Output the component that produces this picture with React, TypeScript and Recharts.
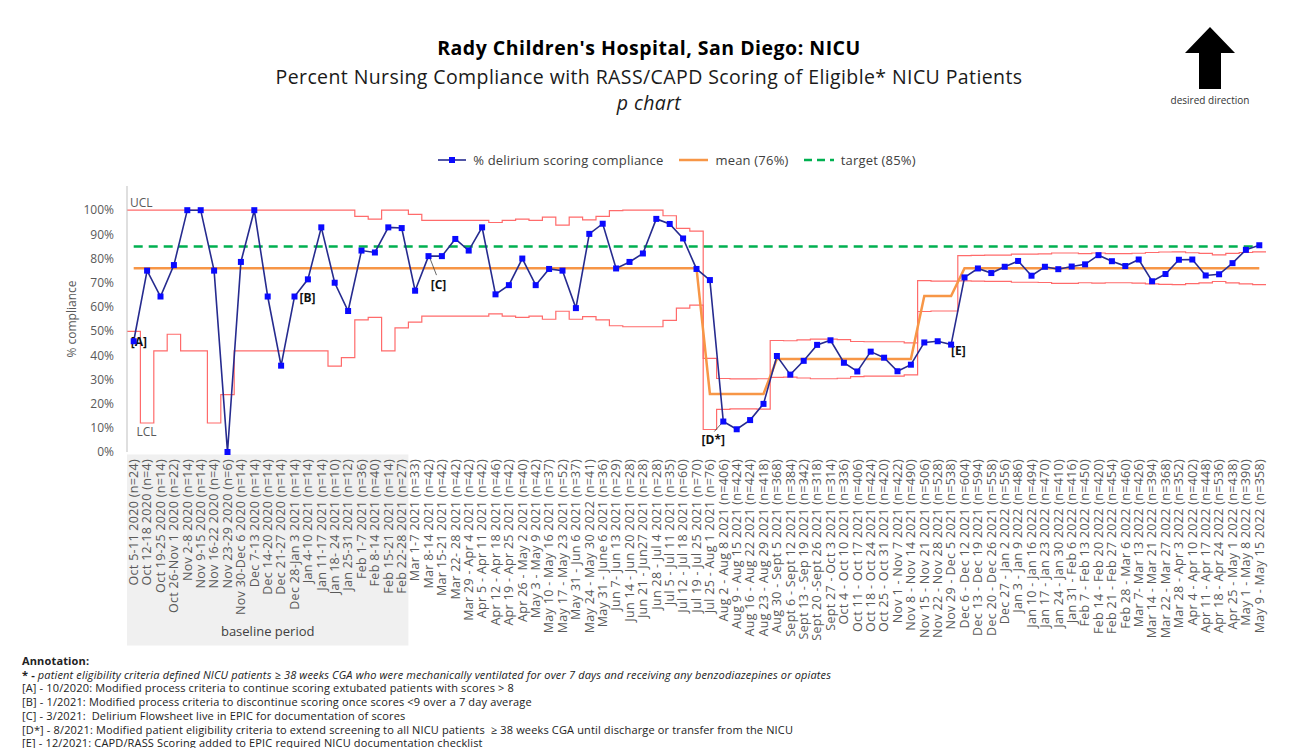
import React from 'react';
import { LineChart, Line, XAxis, YAxis, Legend, ReferenceArea, ReferenceLine, ReferenceDot } from 'recharts';

const weeks = [
  'Oct 5-11 2020 (n=24)', 'Oct 12-18 2020 (n=4)', 'Oct 19-25 2020 (n=14)', 'Oct 26-Nov 1 2020 (n=22)',
  'Nov 2-8 2020 (n=14)', 'Nov 9-15 2020 (n=14)', 'Nov 16-22 2020 (n=4)', 'Nov 23-29 2020 (n=6)',
  'Nov 30-Dec 6 2020 (n=14)', 'Dec 7-13 2020 (n=14)', 'Dec 14-20 2020 (n=14)', 'Dec 21-27 2020 (n=14)',
  'Dec 28-Jan 3 2021 (n=14)', 'Jan 4-10 2021 (n=14)', 'Jan 11-17 2021 (n=14)', 'Jan 18- 24 2021 (n=10)',
  'Jan 25-31 2021 (n=12)', 'Feb 1-7 2021 (n=36)', 'Feb 8-14 2021 (n=40)', 'Feb 15-21 2021 (n=14)',
  'Feb 22-28 2021 (n=27)',
  'Mar 1-7 2021 (n=33)', 'Mar 8-14 2021 (n=42)', 'Mar 15-21 2021 (n=42)', 'Mar 22- 28 2021 (n=42)',
  'Mar 29 - Apr 4 2021 (n=42)', 'Apr 5 - Apr 11 2021 (n=42)', 'Apr 12 - Apr 18 2021 (n=46)',
  'Apr 19 - Apr 25 2021 (n=42)', 'Apr 26 - May 2 2021 (n=40)', 'May 3 - May 9 2021 (n=42)',
  'May 10 - May 16 2021 (n=37)', 'May 17 - May 23 2021 (n=52)',
  'May 31 - Jun 6 2021 (n=37)', 'May 24 - May 30 2022 (n=41)', 'May 31 - June 6 2021 (n=36)',
  'Jun 7- Jun 13 2021 (n=29)', 'Jun 14 - Jun 20 2021 (n=28)', 'Jun 21 - Jun27 2021 (n=28)',
  'Jun 28 - Jul 4 2021 (n=28)', 'Jul 5 - Jul 11 2021 (n=35)', 'Jul 12 - Jul 18 2021 (n=60)',
  'Jul 19 - Jul 25 2021 (n=70)', 'Jul 25 - Aug 1 2021 (n=76)',
  'Aug 2 - Aug 8 2021 (n=406)', 'Aug 9 - Aug 15 2021 (n=424)', 'Aug 16 - Aug 22 2021 (n=424)',
  'Aug 23 - Aug 29 2021 (n=418)', 'Aug 30 - Sept 5 2021 (n=368)', 'Sept 6 - Sept 12 2021 (n=384)',
  'Sept 13 - Sep 19 2021 (n=342)', 'Sept 20 -Sept 26 2021 (n=318)', 'Sept 27 - Oct 3 2021 (n=314)',
  'Oct 4 - Oct 10 2021 (n=336)', 'Oct 11 - Oct 17 2021 (n=406)', 'Oct 18 - Oct 24 2021 (n=424)',
  'Oct 25 - Oct 31 2021 (n=420)',
  'Nov 1 - Nov 7 2021 (n=422)', 'Nov 8 - Nov 14 2021 (n=490)', 'Nov 15 - Nov 21 2021 (n=506)',
  'Nov 22 - Nov 28 2021 (n=528)', 'Nov 29 - Dec 5 2021 (n=538)', 'Dec 6 - Dec 12 2021 (n=604)',
  'Dec 13 - Dec 19 2021 (n=594)', 'Dec 20 - Dec 26 2021 (n=558)', 'Dec 27 - Jan 2 2022 (n=556)',
  'Jan 3 - Jan 9 2022 (n=486)', 'Jan 10 - Jan 16 2022 (n=494)', 'Jan 17 - Jan 23 2022 (n=470)',
  'Jan 24 - Jan 30 2022 (n=410)', 'Jan 31 - Feb 6 2022 (n=416)',
  'Feb 7 - Feb 13 2022 (n=450)', 'Feb 14 - Feb 20 2022 (n=420)', 'Feb 21 - Feb 27 2022 (n=454)',
  'Feb 28 - Mar 6 2022 (n=460)', 'Mar 7- Mar 13 2022 (n=426)', 'Mar 14 - Mar 21 2022 (n=394)',
  'Mar 22 - Mar 27 2022 (n=368)', 'Mar 28 - Apr 3 2022 (n=352)', 'Apr 4 - Apr 10 2022 (n=402)',
  'Apr 11 - Apr 17 2022 (n=448)', 'Apr 18 - Apr 24 2022 (n=536)', 'Apr 25 - May 1 2022 (n=438)',
  'May 1 - May 8 2022 (n=390)', 'May 9 - May 15 2022 (n=358)',
];

// % of eligible patients scored each week
const compliance = [
  45.8, 75, 64.3, 77.3, 100, 100, 75, 0, 78.6, 100, 64.3, 35.7, 64.3, 71.4, 92.9, 70, 58.3, 83.3, 82.5, 92.9, 92.6,
  66.7, 81.0, 81.0, 88.1, 83.3, 92.9, 65.2, 69.0, 80.0, 69.0, 75.7, 75.0,
  59.5, 90.2, 94.4, 75.9, 78.6, 82.1, 96.4, 94.3, 88.3, 75.7, 71.1,
  12.6, 9.4, 13.2, 19.9, 39.7, 32.0, 37.7, 44.3, 46.2, 36.9, 33.3, 41.5, 39.0,
  33.4, 36.1, 45.3, 45.8, 44.4, 72.2, 75.9, 74.0, 76.6, 79.0, 72.9, 76.6, 75.6, 76.7,
  77.6, 81.4, 78.9, 76.9, 79.6, 70.6, 73.6, 79.5, 79.6, 73.0, 73.5, 78.1, 83.6, 85.5,
];

const mean = [
  76, 76, 76, 76, 76, 76, 76, 76, 76, 76, 76, 76, 76, 76, 76, 76, 76, 76, 76, 76, 76,
  76, 76, 76, 76, 76, 76, 76, 76, 76, 76, 76, 76,
  76, 76, 76, 76, 76, 76, 76, 76, 76, 76, 24,
  24, 24, 24, 24, 38.5, 38.5, 38.5, 38.5, 38.5, 38.5, 38.5, 38.5, 38.5,
  38.5, 38.5, 64.5, 64.5, 64.5, 76, 76, 76, 76, 76, 76, 76, 76, 76,
  76, 76, 76, 76, 76, 76, 76, 76, 76, 76, 76, 76, 76, 76,
];

const ucl = [
  100, 100, 100, 100, 100, 100, 100, 100, 100, 100, 100, 100, 100, 100, 100, 100, 100, 97.4, 96.3, 100, 100,
  98.3, 95.8, 95.8, 95.8, 95.8, 95.8, 94.9, 95.8, 96.3, 95.8, 97.1, 93.8,
  97.1, 96.0, 97.4, 99.8, 100, 100, 100, 97.7, 92.5, 91.3, 38.7,
  30.4, 30.2, 30.2, 30.3, 46.1, 46.0, 46.4, 46.7, 46.7, 46.5, 45.7, 45.6, 45.6,
  45.6, 45.1, 70.9, 70.7, 70.7, 81.2, 81.3, 81.4, 81.4, 81.8, 81.8, 81.9, 82.3, 82.3,
  82.0, 82.3, 82.0, 82.0, 82.2, 82.5, 82.7, 82.8, 82.4, 82.1, 81.5, 82.1, 82.5, 82.8,
];

const lcl = [
  49.9, 12.0, 41.8, 48.7, 41.8, 41.8, 12.0, 23.7, 41.8, 41.8, 41.8, 41.8, 41.8, 41.8, 41.8, 35.5, 39.0, 54.6, 55.7, 41.8, 51.3,
  53.7, 56.2, 56.2, 56.2, 56.2, 56.2, 57.1, 56.2, 55.7, 56.2, 54.9, 58.2,
  54.9, 56.0, 54.6, 52.2, 51.8, 51.8, 51.8, 54.4, 59.5, 60.7, 9.3,
  17.6, 17.8, 17.8, 17.7, 30.9, 31.0, 30.6, 30.3, 30.3, 30.5, 31.2, 31.4, 31.4,
  31.4, 31.9, 58.1, 58.3, 58.3, 70.8, 70.7, 70.6, 70.6, 70.2, 70.2, 70.1, 69.7, 69.7,
  70.0, 69.8, 70.0, 70.0, 69.8, 69.5, 69.3, 69.2, 69.6, 69.9, 70.5, 69.9, 69.5, 69.2,
];

const target = 85;
const baselineWeeks = 21;
const yTicks = [0, 10, 20, 30, 40, 50, 60, 70, 80, 90, 100];

const notes = [
  { week: 1, text: '[A]' },
  { week: 13, text: '[B]' },
  { week: 23, text: '[C]' },
  { week: 45, text: '[D*]' },
  { week: 62, text: '[E]' },
];

const annotationLines = [
  '[A] - 10/2020: Modified process criteria to continue scoring extubated patients with scores > 8',
  '[B] - 1/2021: Modified process criteria to discontinue scoring once scores <9 over a 7 day average',
  '[C] - 3/2021:  Delirium Flowsheet live in EPIC for documentation of scores',
  '[D*] - 8/2021: Modified patient eligibility criteria to extend screening to all NICU patients  \u2265 38 weeks CGA until discharge or transfer from the NICU',
  '[E] - 12/2021: CAPD/RASS Scoring added to EPIC required NICU documentation checklist',
];

// one row per week centre (values) and one per week edge (control limits, drawn as steps)
const rows: any[] = [];
weeks.forEach((w, i) => {
  rows.push({ x: i + 0.5, ucl: ucl[i], lcl: lcl[i] });
  rows.push({ x: i + 1, pct: compliance[i], mean: mean[i] });
});
rows.push({ x: weeks.length + 0.5, ucl: ucl[weeks.length - 1], lcl: lcl[weeks.length - 1] });

const centreTicks = weeks.map((_, i) => i + 1);
const edgeTicks = [...weeks.map((_, i) => i + 0.5), weeks.length + 0.5];

const FONT = '"Open Sans", Lato, sans-serif';
const GREY = '#595959';

const noteStyle: Record<string, { dx: number; dy: number; anchor: string; lead?: [number, number, number, number] }> = {
  '[A]': { dx: -3, dy: 5, anchor: 'start' },
  '[B]': { dx: 5, dy: 5, anchor: 'start' },
  '[C]': { dx: 10, dy: 33, anchor: 'middle', lead: [1, 1, 8, 19] },
  '[D*]': { dx: -10, dy: 22, anchor: 'middle', lead: [-1, 1, -9, 10] },
  '[E]': { dx: 0, dy: 10, anchor: 'start' },
};

function WeekTick({ x, y, payload }: any) {
  return (
    <text x={x} y={y} transform={`rotate(-90, ${x}, ${y})`} textAnchor="end" dy="0.35em" fill={GREY} fontSize={12.5} letterSpacing={0.3} fontFamily={FONT}>
      {weeks[payload.value - 1]}
    </text>
  );
}

function Square({ cx, cy }: any) {
  if (cx == null || cy == null) return null;
  return <rect x={cx - 3} y={cy - 3} width={6} height={6} fill="#0a0aff" />;
}

function ChartLegend() {
  return (
    <div style={{ height: 36, display: 'flex', justifyContent: 'center', fontFamily: FONT, fontSize: 13, letterSpacing: 0.2, color: '#404040' }}>
      <div style={{ display: 'flex', alignItems: 'center', height: 20, marginLeft: 80 }}>
        <svg width={28} height={10}><line x1={0} y1={5} x2={28} y2={5} stroke="#262b8f" strokeWidth={1.6} /><rect x={11} y={2} width={6} height={6} fill="#0a0aff" /></svg>
        <span style={{ marginLeft: 7, marginRight: 16 }}>% delirium scoring compliance</span>
        <svg width={29} height={10}><line x1={0} y1={5} x2={29} y2={5} stroke="#f79646" strokeWidth={2.5} /></svg>
        <span style={{ marginLeft: 7, marginRight: 15 }}>mean (76%)</span>
        <svg width={30} height={10}><line x1={0} y1={5} x2={30} y2={5} stroke="#00b050" strokeWidth={2.5} strokeDasharray="8 5" /></svg>
        <span style={{ marginLeft: 7 }}>target (85%)</span>
      </div>
    </div>
  );
}

function NoteMark({ cx, cy, text }: any) {
  const s = noteStyle[text];
  return (
    <g>
      {s.lead && <line x1={cx + s.lead[0]} y1={cy + s.lead[1]} x2={cx + s.lead[2]} y2={cy + s.lead[3]} stroke="#404040" strokeWidth={0.8} />}
      <text x={cx + s.dx} y={cy + s.dy} textAnchor={s.anchor as any} fontSize={12} fontWeight={700} fill="#111" fontFamily={FONT}>{text}</text>
    </g>
  );
}

export default function App() {
  return (
    <div style={{ position: 'relative', width: 1273, height: 740, fontFamily: FONT, background: '#fff' }}>
      <div style={{ position: 'absolute', top: 26, left: 0, width: 1282, textAlign: 'center', color: '#000' }}>
        <div style={{ fontSize: 19.5, fontWeight: 700, letterSpacing: 0.5, lineHeight: '28px' }}>Rady Children's Hospital, San Diego: NICU</div>
        <div style={{ fontSize: 19.5, letterSpacing: 0.4, lineHeight: '29px', color: '#1a1a1a' }}>Percent Nursing Compliance with RASS/CAPD Scoring of Eligible* NICU Patients</div>
        <div style={{ fontSize: 19.5, letterSpacing: 0.4, lineHeight: '24px', fontStyle: 'italic', color: '#1a1a1a' }}>p chart</div>
      </div>

      <div style={{ position: 'absolute', top: 18, left: 1150, width: 104, textAlign: 'center' }}>
        <svg width={54} height={64} style={{ display: 'block', margin: '0 auto' }}>
          <polygon points="27,1 52,27 38,27 38,63 16,63 16,27 2,27" fill="#000" />
        </svg>
        <div style={{ fontSize: 10, color: '#333', marginTop: 3 }}>desired direction</div>
      </div>

      <LineChart width={1273} height={740} data={rows} margin={{ top: 142, right: 15, bottom: 96, left: 0 }} style={{ position: 'absolute', top: 0, left: 0 }}>
        <Legend verticalAlign="top" content={() => <ChartLegend />} />
        <ReferenceArea
          x1={0.5}
          x2={baselineWeeks + 0.5}
          y1={-80}
          y2={-1}
          ifOverflow="visible"
          fill="#f0f0f0"
          fillOpacity={1}
          stroke="none"
          label={{ value: 'baseline period', position: 'insideBottom', offset: 9, fill: '#404040', fontSize: 13, fontFamily: FONT }}
        />
        <XAxis xAxisId={0} type="number" dataKey="x" domain={[0.5, 85.5]} ticks={edgeTicks} tick={false} height={0} tickSize={5} stroke="#bfbfbf" />
        <XAxis xAxisId="labels" type="number" dataKey="x" domain={[0.5, 85.5]} ticks={centreTicks} interval={0} tick={<WeekTick />} height={200} tickLine={false} axisLine={false} tickSize={0} tickMargin={7} />
        <YAxis
          type="number"
          domain={[0, 110]}
          ticks={yTicks}
          tickFormatter={(v: number) => `${v}%`}
          width={119}
          tickLine={false}
          tickMargin={7}
          stroke="#bfbfbf"
          tick={{ fill: GREY, fontSize: 12, fontFamily: FONT }}
          label={{ value: '% compliance', angle: -90, position: 'center', dx: 4, fill: GREY, fontSize: 12, fontFamily: FONT }}
        />
        <Line dataKey="ucl" type="stepAfter" stroke="#ff6b6b" strokeWidth={1.2} dot={false} activeDot={false} connectNulls isAnimationActive={false} legendType="none" />
        <Line dataKey="lcl" type="stepAfter" stroke="#ff6b6b" strokeWidth={1.2} dot={false} activeDot={false} connectNulls isAnimationActive={false} legendType="none" />
        <ReferenceLine segment={[{ x: 1, y: target }, { x: weeks.length, y: target }]} stroke="#00b050" strokeWidth={2.5} strokeDasharray="9 6" />
        <Line dataKey="mean" type="linear" stroke="#f79646" strokeWidth={2.5} dot={false} activeDot={false} connectNulls isAnimationActive={false} />
        <Line dataKey="pct" type="linear" stroke="#262b8f" strokeWidth={1.6} dot={<Square />} activeDot={false} connectNulls isAnimationActive={false} />
        <ReferenceDot x={0.5} y={ucl[0]} r={0} shape={(p: any) => <text x={p.cx + 3} y={p.cy - 3} fontSize={12} fill={GREY} fontFamily={FONT}>UCL</text>} />
        <ReferenceDot x={1.5} y={lcl[1]} r={0} shape={(p: any) => <text x={p.cx - 4} y={p.cy + 13} fontSize={12} fill={GREY} fontFamily={FONT}>LCL</text>} />
        {notes.map(n => (
          <ReferenceDot key={n.text} x={n.week} y={compliance[n.week - 1]} r={0} shape={(p: any) => <NoteMark cx={p.cx} cy={p.cy} text={n.text} />} />
        ))}
      </LineChart>

      <div style={{ position: 'absolute', top: 646, left: 14, fontSize: 11, letterSpacing: 0.15, lineHeight: '13.7px', color: '#222', whiteSpace: 'pre' }}>
        <div style={{ fontWeight: 700 }}>Annotation:</div>
        <div><b>* -</b> <i>patient eligibility criteria defined NICU patients {'\u2265'} 38 weeks CGA who were mechanically ventilated for over 7 days and receiving any benzodiazepines or opiates</i></div>
        {annotationLines.map(t => <div key={t}>{t}</div>)}
      </div>
    </div>
  );
}
